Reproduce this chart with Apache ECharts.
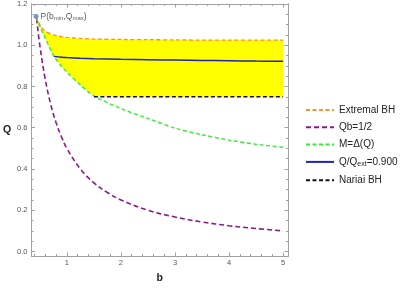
<!DOCTYPE html>
<html><head><meta charset="utf-8">
<script src="https://cdn.jsdelivr.net/npm/echarts@6/dist/echarts.min.js"></script>
<style>html,body{margin:0;padding:0;background:#fff}#c{width:406px;height:289px}</style>
</head><body><div id="c"></div>
<script>
const bGrid     = [0.43, 0.5, 0.6, 0.75, 0.9, 1.0, 1.25, 1.5, 2, 2.5, 3, 3.5, 4, 4.5, 5];
const extremalQ = [1.14, 1.10, 1.068, 1.05, 1.042, 1.038, 1.033, 1.030, 1.028, 1.027, 1.026, 1.025, 1.025, 1.025, 1.025];
const deltaQ    = [1.135, 1.09, 1.035, 0.952, 0.898, 0.870, 0.807, 0.755, 0.693, 0.645, 0.598, 0.566, 0.540, 0.520, 0.505];
const halfB     = [0.44, 0.5, 0.6, 0.7, 0.8, 0.9, 1.0, 1.25, 1.5, 1.75, 2, 2.5, 3, 3.5, 4, 4.5, 5];
const halfQ     = [1.13, 1.0, 0.835, 0.715, 0.625, 0.556, 0.5, 0.4, 0.333, 0.286, 0.25, 0.2, 0.167, 0.143, 0.125, 0.111, 0.1];
const ratioB    = [0.76, 0.9, 1.0, 1.25, 1.5, 2, 2.5, 3, 3.5, 4, 4.5, 5];
const ratioQ    = [0.946, 0.942, 0.94, 0.937, 0.935, 0.932, 0.93, 0.928, 0.926, 0.925, 0.923, 0.922];
const nariaiB   = [1.5, 5];
const nariaiQ   = [0.75, 0.75];
const pointP    = [0.43, 1.14];
const xLabels   = [1, 2, 3, 4, 5];
const xMinor    = [0.4,0.6,0.8,1.2,1.4,1.6,1.8,2.2,2.4,2.6,2.8,3.2,3.4,3.6,3.8,4.2,4.4,4.6,4.8,5.0];
const yLabels   = [0, 0.2, 0.4, 0.6, 0.8, 1.0, 1.2];
const yMinor    = [];
for (let i = 0; i <= 24; i++) { if (i % 4) yMinor.push(+(i * 0.05).toFixed(2)); }

const XMIN = 0.346, XMAX = 5.09, YMIN = -0.022, YMAX = 1.2;
const frame = '#a0a0a0';
const pair = (xs, ys) => xs.map((x, i) => [x, ys[i]]);
const lower = bGrid.map((b, i) => b < nariaiB[0] ? deltaQ[i] : Math.max(deltaQ[i], nariaiQ[0]));

function xAx(pos, ticks, len, labels) {
  return { type: 'value', position: pos, min: XMIN, max: XMAX,
    axisLine: { show: true, onZero: false, lineStyle: { color: frame, width: 1 } },
    axisTick: { show: true, inside: true, length: len, customValues: ticks, lineStyle: { color: frame } },
    axisLabel: labels ? { show: true, customValues: labels, fontSize: 7.5, color: '#555', margin: 3, fontFamily: 'Liberation Sans' } : { show: false },
    splitLine: { show: false } };
}
function yAx(pos, ticks, len, labels) {
  return { type: 'value', position: pos, min: YMIN, max: YMAX,
    axisLine: { show: true, onZero: false, lineStyle: { color: frame, width: 1 } },
    axisTick: { show: true, inside: true, length: len, customValues: ticks, lineStyle: { color: frame } },
    axisLabel: labels ? { show: true, customValues: labels, fontSize: 7.5, color: '#555', margin: 4, fontFamily: 'Liberation Sans', formatter: v => v.toFixed(1) } : { show: false },
    splitLine: { show: false } };
}
const xs = [xAx('bottom', xLabels, 3.5, xLabels), xAx('bottom', xMinor, 2, null), xAx('top', xLabels, 3.5, null), xAx('top', xMinor, 2, null)];
xs[0].name = 'b'; xs[0].nameLocation = 'middle'; xs[0].nameGap = 17;
xs[0].nameTextStyle = { fontSize: 10.5, fontWeight: 'bold', color: '#222', fontFamily: 'Liberation Sans' };
const ys = [yAx('left', yLabels, 3.5, yLabels), yAx('left', yMinor, 2, null), yAx('right', yLabels, 3.5, null), yAx('right', yMinor, 2, null)];
ys[0].name = 'Q'; ys[0].nameLocation = 'middle'; ys[0].nameGap = 20; ys[0].nameRotate = 0;
ys[0].nameTextStyle = { fontSize: 10.5, fontWeight: 'bold', color: '#222', fontFamily: 'Liberation Sans' };

const chart = echarts.init(document.getElementById('c'), null, { renderer: 'canvas' });
chart.setOption({
  animation: false,
  grid: { left: 30.5, right: 118, top: 4, bottom: 29, containLabel: false },
  xAxis: xs, yAxis: ys,
  legend: {
    orient: 'vertical', left: 300, top: 100, itemWidth: 28, itemHeight: 10, itemGap: 7.3,
    itemStyle: { opacity: 0 },
    textStyle: { fontSize: 10, color: '#222', fontFamily: 'Liberation Sans',
      rich: { n: { fontSize: 10, color: '#222', fontFamily: 'Liberation Sans' },
              s: { fontSize: 7, color: '#222', fontFamily: 'Liberation Sans', padding: [5, 0, 0, 0] } } },
    data: ['Extremal BH', 'Qb=1/2', 'M=Δ(Q)', 'Q/Q_ext=0.900', 'Nariai BH'],
    formatter: n => n === 'Q/Q_ext=0.900' ? '{n|Q/Q}{s|ext}{n|=0.900}' : n
  },
  series: [
    { name: 'fill', type: 'custom', coordinateSystem: 'cartesian2d', silent: true, z: 1,
      data: [[bGrid[0], lower[0]]],
      renderItem: (params, api) => {
        const pts = bGrid.map((b, i) => api.coord([b, extremalQ[i]]));
        for (let i = bGrid.length - 1; i >= 0; i--) pts.push(api.coord([bGrid[i], lower[i]]));
        return { type: 'polygon', shape: { points: pts }, style: { fill: '#ffff00', stroke: null } };
      } },
    { name: 'Qb=1/2', type: 'line', data: pair(halfB, halfQ), symbol: 'none', smooth: 0.4,
      lineStyle: { color: '#8b1a8b', width: 1.6, type: [5, 3] }, itemStyle: { color: '#8b1a8b' }, z: 3 },
    { name: 'M=Δ(Q)', type: 'line', data: pair(bGrid, deltaQ), symbol: 'none', smooth: 0.3,
      lineStyle: { color: '#33ee33', width: 1.4, type: [4, 2.5] }, itemStyle: { color: '#33ee33' }, z: 3 },
    { name: 'Nariai BH', type: 'line', data: pair(nariaiB, nariaiQ), symbol: 'none',
      lineStyle: { color: '#111', width: 1.5, type: [4, 2.5] }, itemStyle: { color: '#111' }, z: 4 },
    { name: 'Extremal BH', type: 'line', data: pair(bGrid, extremalQ), symbol: 'none', smooth: 0.3,
      lineStyle: { color: '#f5923a', width: 1.3, type: [4, 2.5] }, itemStyle: { color: '#f5923a' }, z: 3 },
    { name: 'Q/Q_ext=0.900', type: 'line', data: pair(ratioB, ratioQ), symbol: 'none', smooth: 0.3,
      lineStyle: { color: '#2222b4', width: 1.5 }, itemStyle: { color: '#2222b4' }, z: 4 },
    { name: 'P', type: 'scatter', data: [pointP], symbolSize: 5, itemStyle: { color: '#5b7fc0' }, z: 5,
      label: { show: true, position: 'right', distance: 2, formatter: 'P(b{s|min},Q{s|max})',
        fontSize: 8.5, color: '#333', fontFamily: 'Liberation Sans',
        rich: { s: { fontSize: 6, color: '#333', padding: [4, 0, 0, 0], fontFamily: 'Liberation Sans' } } } }
  ]
});
</script></body></html>
